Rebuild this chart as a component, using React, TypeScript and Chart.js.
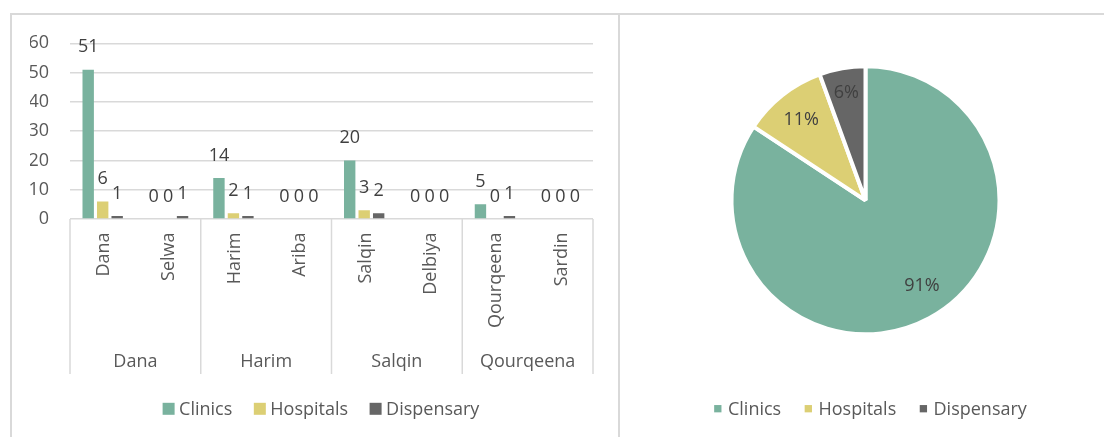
import React, { useEffect, useRef } from "react";
import { Chart, registerables } from "chart.js";

Chart.register(...registerables);

// ---------- data ----------
const subCategories = ["Dana", "Selwa", "Harim", "Ariba", "Salqin", "Delbiya", "Qourqeena", "Sardin"];
const groupCategories = ["Dana", "Harim", "Salqin", "Qourqeena"];
const seriesNames = ["Clinics", "Hospitals", "Dispensary"];
const clinics = [51, 0, 14, 0, 20, 0, 5, 0];
const hospitals = [6, 0, 2, 0, 3, 0, 0, 0];
const dispensary = [1, 1, 1, 0, 2, 0, 1, 0];
const yMin = 0;
const yMax = 60;
const yStep = 10;
const pieValues = [91, 11, 6];

// ---------- styles ----------
const COLORS = ["#79B29E", "#DCCF74", "#666666"];
const FONT_FAMILY = "'Open Sans', sans-serif";
const AXIS_TEXT = "#595959";
const LABEL_TEXT = "#404040";
const GRID = "#D9D9D9";
const pieLabelRadius = [0.756, 0.774, 0.824];
const pieLabelShiftDeg = [-5.5, 0, 0];

function font(size: number) {
  return `${size}px ${FONT_FAMILY}`;
}

function drawLegend(
  ctx: CanvasRenderingContext2D,
  centerX: number,
  markerCenterY: number,
  baselineY: number,
  box: number,
  gapBoxText: number,
  gapItems: number
) {
  ctx.save();
  ctx.font = font(18);
  const widths = seriesNames.map((s) => ctx.measureText(s).width);
  const total =
    widths.reduce((s, w) => s + w + box + gapBoxText, 0) + gapItems * (seriesNames.length - 1);
  let x = centerX - total / 2;
  seriesNames.forEach((name, i) => {
    ctx.fillStyle = COLORS[i];
    ctx.fillRect(x, markerCenterY - box / 2, box, box);
    x += box + gapBoxText;
    ctx.fillStyle = AXIS_TEXT;
    ctx.textAlign = "left";
    ctx.textBaseline = "alphabetic";
    ctx.fillText(name, x, baselineY);
    x += widths[i] + gapItems;
  });
  ctx.restore();
}

const barDecor = {
  id: "barDecor",
  afterDraw(chart: any) {
    const ctx: CanvasRenderingContext2D = chart.ctx;
    const xs = chart.scales.x;
    const area = chart.chartArea;
    const catW = (area.right - area.left) / subCategories.length;
    ctx.save();
    // group separators
    ctx.strokeStyle = GRID;
    ctx.lineWidth = 1.5;
    for (let g = 0; g <= groupCategories.length; g++) {
      const x = area.left + g * 2 * catW;
      ctx.beginPath();
      ctx.moveTo(x, area.bottom);
      ctx.lineTo(x, 374);
      ctx.stroke();
    }
    // rotated sub-category labels
    ctx.font = font(18);
    ctx.fillStyle = AXIS_TEXT;
    subCategories.forEach((lab, i) => {
      const cx = xs.getPixelForValue(i);
      ctx.save();
      ctx.translate(cx + 6.4, 232.5);
      ctx.rotate(-Math.PI / 2);
      ctx.textAlign = "right";
      ctx.textBaseline = "alphabetic";
      ctx.fillText(lab, 0, 0);
      ctx.restore();
    });
    // group labels
    groupCategories.forEach((lab, g) => {
      const cx = (xs.getPixelForValue(2 * g) + xs.getPixelForValue(2 * g + 1)) / 2;
      ctx.textAlign = "center";
      ctx.textBaseline = "alphabetic";
      ctx.fillText(lab, cx, 366.7);
    });
    // data labels
    ctx.fillStyle = LABEL_TEXT;
    chart.data.datasets.forEach((ds: any, di: number) => {
      const meta = chart.getDatasetMeta(di);
      meta.data.forEach((bar: any, i: number) => {
        ctx.textAlign = "center";
        ctx.textBaseline = "alphabetic";
        ctx.fillText(String(ds.data[i]), bar.x, bar.y - 17.5);
      });
    });
    ctx.restore();
    drawLegend(ctx, 321, 408.8, 415, 12, 4.5, 21.5);
  },
};

const pieDecor = {
  id: "pieDecor",
  afterDraw(chart: any) {
    const ctx: CanvasRenderingContext2D = chart.ctx;
    const meta = chart.getDatasetMeta(0);
    ctx.save();
    ctx.font = font(18);
    ctx.fillStyle = LABEL_TEXT;
    ctx.textAlign = "center";
    ctx.textBaseline = "middle";
    meta.data.forEach((arc: any, i: number) => {
      const mid = (arc.startAngle + arc.endAngle) / 2 + (pieLabelShiftDeg[i] * Math.PI) / 180;
      const r = arc.outerRadius * pieLabelRadius[i];
      const x = arc.x + Math.cos(mid) * r;
      const y = arc.y + Math.sin(mid) * r;
      ctx.fillText(`${pieValues[i]}%`, x, y + 1);
    });
    ctx.restore();
    drawLegend(ctx, 870.5 - 620, 408.7, 415, 7.3, 6.5, 23.5);
  },
};

export default function App() {
  const barRef = useRef<HTMLCanvasElement>(null);
  const pieRef = useRef<HTMLCanvasElement>(null);

  useEffect(() => {
    Chart.defaults.font.family = FONT_FAMILY;
    const bar = new Chart(barRef.current!, {
      type: "bar",
      data: {
        labels: subCategories,
        datasets: [clinics, hospitals, dispensary].map((d, i) => ({
          label: seriesNames[i],
          data: d,
          backgroundColor: COLORS[i],
          borderWidth: 0,
          categoryPercentage: 0.665,
          barPercentage: 0.786,
        })),
      },
      options: {
        responsive: false,
        animation: false,
        events: [],
        layout: { padding: { left: 30, right: 27, top: 43.3, bottom: 218 } },
        plugins: { legend: { display: false }, tooltip: { enabled: false } },
        scales: {
          x: { display: false },
          y: {
            min: yMin,
            max: yMax,
            ticks: { stepSize: yStep, color: AXIS_TEXT, font: { size: 18 }, padding: 21 },
            grid: { color: GRID, lineWidth: 1.4, drawTicks: false },
            border: { display: false },
            afterFit: (s: any) => {
              s.width = 40;
            },
          },
        },
      },
      plugins: [barDecor],
    });

    const pie = new Chart(pieRef.current!, {
      type: "pie",
      data: {
        labels: seriesNames,
        datasets: [
          {
            data: pieValues,
            backgroundColor: COLORS,
            borderColor: "#FFFFFF",
            borderWidth: 4,
          },
        ],
      },
      options: {
        responsive: false,
        animation: false,
        events: [],
        radius: 134,
        layout: { padding: { left: 20, right: 13, top: 40, bottom: 76.4 } },
        plugins: { legend: { display: false }, tooltip: { enabled: false } },
      } as any,
      plugins: [pieDecor],
    });

    document.fonts
      .load(`18px 'Open Sans'`)
      .then(() => {
        bar.update();
        pie.update();
      })
      .catch(() => {});

    return () => {
      bar.destroy();
      pie.destroy();
    };
  }, []);

  return (
    <div
      style={{
        position: "absolute",
        left: 0,
        top: 0,
        width: 1104,
        height: 437,
        overflow: "hidden",
        background: "#FFFFFF",
      }}
    >
      <div
        style={{
          position: "absolute",
          left: 10,
          top: 13,
          width: 610,
          height: 440,
          boxSizing: "border-box",
          border: `2px solid ${GRID}`,
        }}
      />
      <div
        style={{
          position: "absolute",
          left: 618,
          top: 13,
          width: 600,
          height: 440,
          boxSizing: "border-box",
          border: `2px solid ${GRID}`,
        }}
      />
      <canvas
        ref={barRef}
        width={620}
        height={437}
        style={{ position: "absolute", left: 0, top: 0, width: 620, height: 437 }}
      />
      <canvas
        ref={pieRef}
        width={484}
        height={437}
        style={{ position: "absolute", left: 620, top: 0, width: 484, height: 437 }}
      />
    </div>
  );
}
